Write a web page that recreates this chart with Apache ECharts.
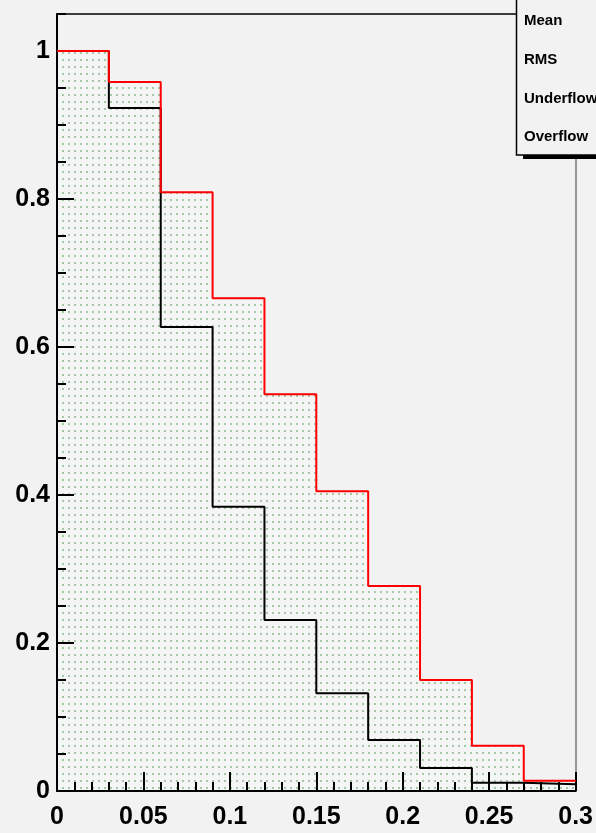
<!DOCTYPE html>
<html>
<head>
<meta charset="utf-8">
<script src="https://cdn.jsdelivr.net/npm/echarts@6/dist/echarts.min.js"></script>
<style>
  html, body { margin: 0; padding: 0; background: #f2f2f2; }
  #chart { width: 596px; height: 833px; }
</style>
</head>
<body>
<div id="chart"></div>
<script>
// bin left edges (width 0.03), last entry closes the histogram
const binEdges = [0, 0.03, 0.06, 0.09, 0.12, 0.15, 0.18, 0.21, 0.24, 0.27, 0.3]
const redValues = [1.0, 0.958, 0.809, 0.666, 0.536, 0.405, 0.277, 0.150, 0.061, 0.014]
const blackValues = [1.0, 0.923, 0.627, 0.384, 0.231, 0.132, 0.069, 0.031, 0.011, 0.009]
const yLabelValues = [0, 0.2, 0.4, 0.6, 0.8, 1]
const statsLabels = ['Mean', 'RMS', 'Underflow', 'Overflow']

const toSteps = vals => {
  const pts = vals.map((v, i) => [binEdges[i], v])
  pts.push([binEdges[binEdges.length - 1], vals[vals.length - 1]])
  return pts
}

// dotted fill like ROOT's fill style
const makeDots = () => {
  const c = document.createElement('canvas')
  c.width = 6
  c.height = 7
  const ctx = c.getContext('2d')
  ctx.fillStyle = '#f4f5f4'
  ctx.fillRect(0, 0, 6, 7)
  ctx.fillStyle = '#a6c8a6'
  ctx.fillRect(2, 3, 2, 2)
  return c
}

const chart = echarts.init(document.getElementById('chart'))
const labelFont = { fontFamily: 'Liberation Sans', fontWeight: 'bold', fontSize: 25, color: '#000' }
const tickStyle = { color: '#000', width: 2 }

const option = {
  backgroundColor: '#f2f2f2',
  animation: false,
  grid: { left: 57, right: 19, top: 14, bottom: 42 },
  xAxis: [
    {
      type: 'value',
      min: 0,
      max: 0.3,
      interval: 0.05,
      z: 10,
      axisLine: { onZero: false, lineStyle: { color: '#000', width: 2 } },
      axisTick: { inside: true, length: 19, lineStyle: tickStyle },
      minorTick: { show: true, splitNumber: 5, length: 9, lineStyle: tickStyle },
      axisLabel: { ...labelFont, margin: 14 },
      splitLine: { show: false }
    },
    {
      type: 'value',
      position: 'top',
      min: 0,
      max: 0.3,
      z: 10,
      axisLine: { show: true, onZero: false, lineStyle: { color: '#000', width: 1.5 } },
      axisTick: { show: false },
      axisLabel: { show: false },
      splitLine: { show: false }
    }
  ],
  yAxis: [
    {
      type: 'value',
      min: 0,
      max: 1.05,
      interval: 0.05,
      z: 10,
      axisLine: { show: true, onZero: false, lineStyle: { color: '#000', width: 2 } },
      axisTick: { inside: true, length: 9, lineStyle: tickStyle },
      axisLabel: { show: false },
      splitLine: { show: false }
    },
    {
      type: 'value',
      position: 'left',
      min: 0,
      max: 1.05,
      interval: 0.2,
      z: 10,
      axisLine: { show: false, onZero: false },
      axisTick: { inside: true, length: 17, customValues: yLabelValues, lineStyle: tickStyle },
      axisLabel: { ...labelFont, margin: 7, padding: [6, 0, 0, 0], customValues: yLabelValues },
      splitLine: { show: false }
    },
    {
      type: 'value',
      position: 'right',
      min: 0,
      max: 1.05,
      z: 10,
      axisLine: { show: true, onZero: false, lineStyle: { color: '#777', width: 1.5 } },
      axisTick: { show: false },
      axisLabel: { show: false },
      splitLine: { show: false }
    }
  ],
  series: [
    {
      type: 'line',
      step: 'end',
      data: toSteps(redValues),
      showSymbol: false,
      lineStyle: { width: 0 },
      areaStyle: { color: { image: makeDots(), repeat: 'repeat' }, opacity: 1 },
      z: 1
    },
    {
      type: 'line',
      step: 'end',
      data: toSteps(blackValues),
      showSymbol: false,
      lineStyle: { color: '#000', width: 2 },
      z: 20
    },
    {
      type: 'line',
      step: 'end',
      data: toSteps(redValues),
      showSymbol: false,
      lineStyle: { color: '#ff0000', width: 2 },
      z: 21
    }
  ],
  graphic: [
    {
      type: 'rect',
      z: 100,
      shape: { x: 523, y: 155, width: 80, height: 4 },
      style: { fill: '#000' }
    },
    {
      type: 'rect',
      z: 101,
      shape: { x: 516.5, y: -5, width: 90, height: 160 },
      style: { fill: '#f2f2f2', stroke: '#000', lineWidth: 1.5 }
    },
    ...statsLabels.map((t, i) => ({
      type: 'text',
      z: 102,
      x: 524,
      y: 21 + i * 38.7,
      style: {
        text: t,
        fill: '#000',
        font: 'bold 15px "Liberation Sans", Arial, sans-serif',
        verticalAlign: 'middle'
      }
    }))
  ]
}

chart.setOption(option)
</script>
</body>
</html>
